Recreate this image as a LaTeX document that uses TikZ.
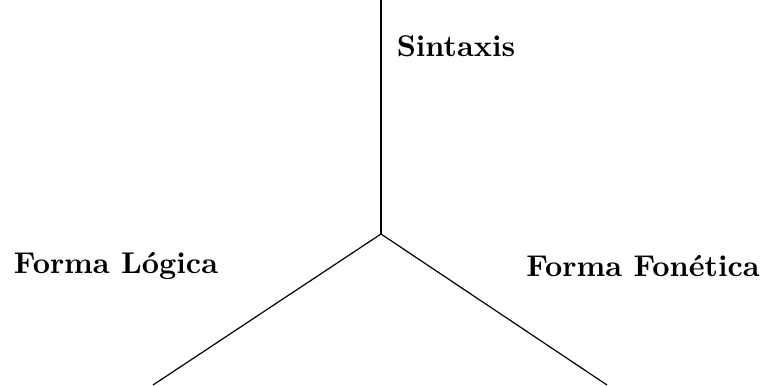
\documentclass[tikz,border=0pt]{standalone}
\usetikzlibrary{positioning}

\begin{document}
\begin{tikzpicture}[x=0.01172cm, y=0.01172cm, etiqueta/.style = {font=\bfseries}]
    \useasboundingbox (0,0) rectangle (768,385);

    \coordinate (centro) at (381,151);
    \coordinate (arriba) at (381,385);
    \coordinate (izq) at (153,0);
    \coordinate (der) at (607,0);

    \draw (arriba) -- (centro);
    \draw (centro) -- (izq);
    \draw (centro) -- (der);

    \node[etiqueta] (sint) at (456,339) {Sintaxis};
    \node[etiqueta] (fl) at (116,119) {Forma Lógica};
    \node[etiqueta] (ff) at (643,119) {Forma Fonética};

\end{tikzpicture}
\end{document}
